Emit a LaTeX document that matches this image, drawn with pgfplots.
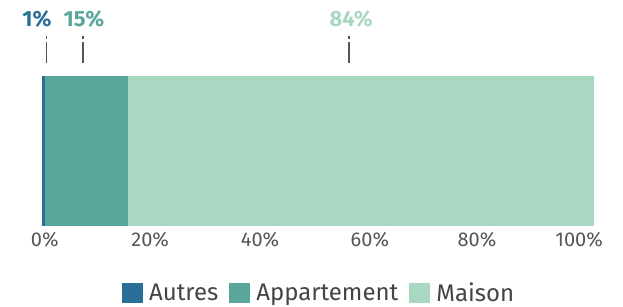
\documentclass[border=0pt]{standalone}
\usepackage{fontspec}
\setmainfont{Fira Sans}
\usepackage{pgfplots}
\pgfplotsset{compat=1.18}
\definecolor{cAut}{HTML}{2A6F97}
\definecolor{cApp}{HTML}{5AA59C}
\definecolor{cMai}{HTML}{A8D8C2}
\definecolor{tickgray}{HTML}{555555}
\definecolor{leggray}{HTML}{444444}
\begin{document}
\begin{tikzpicture}
\useasboundingbox (0,0) rectangle (623pt,307pt);
\begin{axis}[
  at={(42pt,81pt)}, anchor=south west,
  scale only axis, width=552pt, height=150pt,
  xbar stacked, bar width=1,
  xmin=0, xmax=100, ymin=-0.5, ymax=0.5,
  axis line style={draw=none},
  major tick length=0pt,
  ytick=\empty,
  xtick={0.5,19.6,39.5,59.4,78.8,97.3},
  xticklabels={0\%,20\%,40\%,60\%,80\%,100\%},
  xticklabel style={font=\fontsize{20}{24}\selectfont, text=tickgray, anchor=base, yshift=-21pt},
  clip=false,
  legend columns=3,
  legend image code/.code={\path[#1] (0pt,-10pt) rectangle (21pt,10pt);},
  legend style={at={(0.502,-0.447)}, anchor=center, draw=none, fill=none,
    font=\fontsize{24}{28}\selectfont, text=leggray,
    /tikz/every odd column/.append style={column sep=4pt},
    /tikz/every even column/.append style={column sep=9pt}},
]
\addplot[fill=cAut, draw=none] coordinates {(0.6,0)};
\addlegendentry{Autres}
\addplot[fill=cApp, draw=none] coordinates {(15.0,0)};
\addlegendentry{Appartement}
\addplot[fill=cMai, draw=none] coordinates {(84.4,0)};
\addlegendentry{Maison}

\draw[tickgray, line width=1.6pt, dash pattern=on 3pt off 3pt on 21pt] (axis cs:0.85,0.767) -- (axis cs:0.85,0.587);
\draw[tickgray, line width=1.6pt, dash pattern=on 3pt off 3pt on 21pt] (axis cs:7.4,0.767) -- (axis cs:7.4,0.587);
\draw[tickgray, line width=1.6pt, dash pattern=on 3pt off 3pt on 21pt] (axis cs:55.6,0.767) -- (axis cs:55.6,0.587);
\node[anchor=base, font=\bfseries\fontsize{22}{26}\selectfont, text=cAut] at (axis cs:-0.9,0.827) {1\%};
\node[anchor=base, font=\bfseries\fontsize{22}{26}\selectfont, text=cApp] at (axis cs:7.6,0.827) {15\%};
\node[anchor=base, font=\bfseries\fontsize{22}{26}\selectfont, text=cMai] at (axis cs:56.0,0.827) {84\%};
\end{axis}
\end{tikzpicture}
\end{document}
